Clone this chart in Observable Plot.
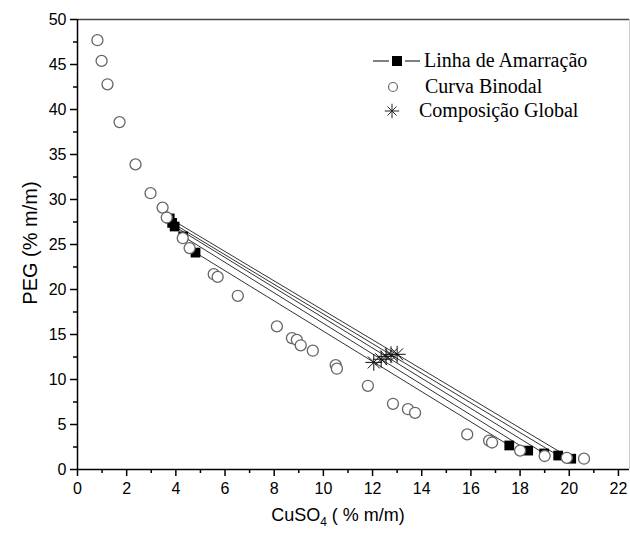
<!DOCTYPE html>
<html><head><meta charset="utf-8">
<script src="https://cdn.jsdelivr.net/npm/d3@7"></script>
<script src="https://cdn.jsdelivr.net/npm/@observablehq/plot@0.6"></script>
<style>body{margin:0;background:#fff} svg{display:block}</style>
</head><body><div id="chart"></div>
<script>
// Curva Binodal
const binodalX = [0.81, 0.98, 1.22, 1.71, 2.36, 2.97, 3.46, 3.63, 4.28, 4.56, 5.54, 5.70, 6.52, 8.11, 8.72, 8.92, 9.08, 9.57, 10.50, 10.55, 11.81, 12.83, 13.44, 13.73, 15.85, 16.74, 16.86, 18.00, 19.00, 19.90, 20.60];
const binodalY = [47.7, 45.4, 42.8, 38.6, 33.9, 30.7, 29.1, 28.0, 25.7, 24.6, 21.7, 21.4, 19.3, 15.9, 14.6, 14.4, 13.8, 13.2, 11.6, 11.2, 9.3, 7.3, 6.7, 6.3, 3.9, 3.2, 3.0, 2.1, 1.5, 1.3, 1.2];
// Linha de Amarração (fase superior / fase inferior)
const tieTopX = [3.75, 3.85, 3.95, 4.30, 4.80];
const tieTopY = [27.9, 27.4, 27.0, 25.9, 24.1];
const tieBotX = [20.08, 19.55, 18.98, 18.33, 17.56];
const tieBotY = [1.2, 1.55, 1.78, 2.1, 2.67];
// Composição Global
const globalX = [13.0, 12.75, 12.55, 12.35, 12.05];
const globalY = [12.8, 12.75, 12.57, 12.25, 11.9];
// ticks
const xMajor = [0, 2, 4, 6, 8, 10, 12, 14, 16, 18, 20, 22];
const yMajor = [0, 5, 10, 15, 20, 25, 30, 35, 40, 45, 50];

const binodal = binodalX.map((x, i) => ({x, y: binodalY[i]}));
const ties = tieTopX.map((x, i) => ({x1: x, y1: tieTopY[i], x2: tieBotX[i], y2: tieBotY[i]}));
const tieEnds = ties.flatMap(d => [{x: d.x1, y: d.y1}, {x: d.x2, y: d.y2}]);
const global = globalX.map((x, i) => ({x, y: globalY[i]}));
const xMinor = xMajor.slice(0, -1).map(v => v + 1);
const yMinor = yMajor.slice(0, -1).map(v => v + 2.5);
const XMAX = 22.45;

const plot = Plot.plot({
  width: 630, height: 541,
  marginLeft: 77, marginRight: 1, marginTop: 19, marginBottom: 72,
  style: {fontFamily: "'Liberation Sans', Arial, sans-serif", fontSize: "16px", color: "#000", background: "#fff"},
  x: {domain: [0, XMAX]},
  y: {domain: [0, 50]},
  marks: [
    Plot.ruleY([50], {stroke: "#444", strokeWidth: 1.5}),
    Plot.ruleX([XMAX], {stroke: "#ccc", strokeWidth: 1}),
    Plot.axisX({ticks: xMajor, tickSize: 7, tickPadding: 6, strokeWidth: 1.5, label: null, fontSize: 16}),
    Plot.axisX({ticks: xMinor, tickSize: 4, strokeWidth: 1.5, text: null, label: null}),
    Plot.axisY({ticks: yMajor, tickSize: 7, tickPadding: 4, strokeWidth: 1.5, label: null, fontSize: 16}),
    Plot.axisY({ticks: yMinor, tickSize: 4, strokeWidth: 1.5, text: null, label: null}),
    Plot.ruleY([0], {stroke: "#000", strokeWidth: 1.5}),
    Plot.ruleX([0], {stroke: "#000", strokeWidth: 1.5}),
    Plot.link(ties, {x1: "x1", y1: "y1", x2: "x2", y2: "y2", stroke: "#333", strokeWidth: 1}),
    Plot.dot(tieEnds, {x: "x", y: "y", symbol: "square", fill: "#000", r: 5.5}),
    Plot.dot(binodal, {x: "x", y: "y", r: 5.5, stroke: "#666", strokeWidth: 1.3, fill: "#fff"}),
    Plot.dot(global, {x: "x", y: "y", symbol: "plus", stroke: "#111", strokeWidth: 1, r: 5.5}),
    Plot.dot(global, {x: "x", y: "y", symbol: "times", stroke: "#111", strokeWidth: 1, r: 5.5})
  ]
});
document.getElementById("chart").appendChild(plot);

// axis titles and legend
const svg = d3.select(plot);
const xt = svg.append("text").attr("x", 338).attr("y", 521).attr("text-anchor", "middle")
  .attr("font-family", "'Liberation Sans', Arial, sans-serif").attr("font-size", 18).attr("fill", "#000");
xt.append("tspan").text("CuSO");
xt.append("tspan").attr("font-size", 12).attr("dy", 5).text("4");
xt.append("tspan").attr("dy", -5).text(" ( % m/m)");
svg.append("text").attr("transform", "translate(37,243) rotate(-90)").attr("text-anchor", "middle")
  .attr("font-family", "'Liberation Sans', Arial, sans-serif").attr("font-size", 20).attr("fill", "#000")
  .text("PEG (% m/m)");

const lg = svg.append("g").attr("font-family", "'Liberation Serif', 'Times New Roman', serif").attr("font-size", 20).attr("fill", "#000").attr("text-anchor", "start");
lg.append("line").attr("x1", 373).attr("x2", 389).attr("y1", 61).attr("y2", 61).attr("stroke", "#000").attr("stroke-width", 1);
lg.append("line").attr("x1", 405).attr("x2", 420).attr("y1", 61).attr("y2", 61).attr("stroke", "#000").attr("stroke-width", 1);
lg.append("rect").attr("x", 392).attr("y", 56).attr("width", 10).attr("height", 10).attr("fill", "#000");
lg.append("text").attr("x", 424).attr("y", 67).text("Linha de Amarração");
lg.append("circle").attr("cx", 393).attr("cy", 87).attr("r", 4.5).attr("fill", "#fff").attr("stroke", "#666").attr("stroke-width", 1.2);
lg.append("text").attr("x", 425).attr("y", 93).text("Curva Binodal");
lg.append("path").attr("transform", "translate(392,111)").attr("d", d3.symbol(d3.symbolPlus, 70)()).attr("stroke", "#222").attr("fill", "none");
lg.append("path").attr("transform", "translate(392,111)").attr("d", d3.symbol(d3.symbolTimes, 55)()).attr("stroke", "#222").attr("fill", "none");
lg.append("text").attr("x", 419).attr("y", 117).text("Composição Global");
</script>
</body></html>
